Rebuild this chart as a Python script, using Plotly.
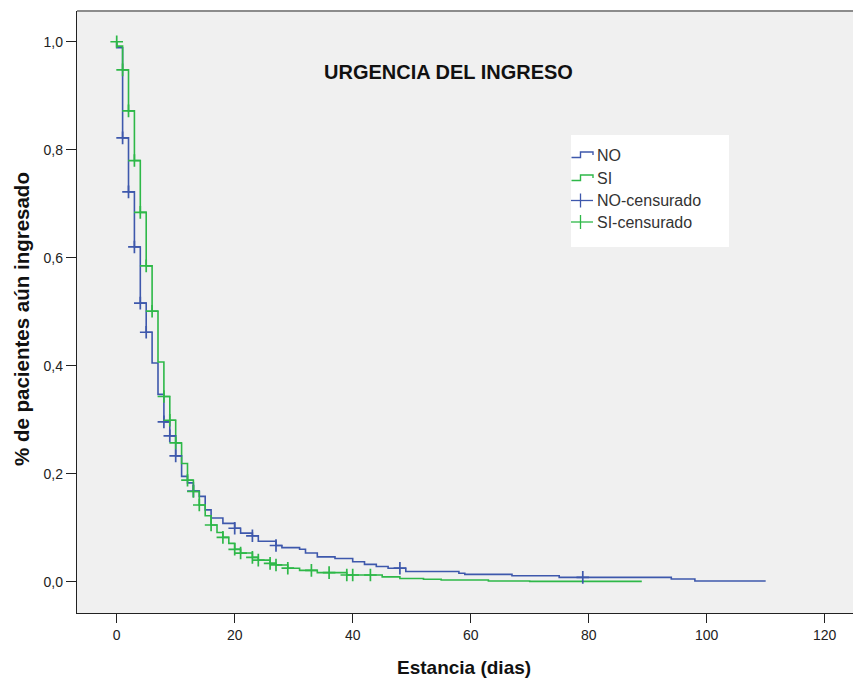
import plotly.graph_objects as go

# ---------------- data ----------------
# Kaplan-Meier steps: time at which each level starts, and the level
no_times = [0, 0, 1, 2, 3, 4, 5, 6, 7, 8, 9, 10, 11, 12, 13, 14, 15, 16, 18, 20, 21,
            23, 24, 27, 28, 31, 32, 34, 37, 40, 42, 44, 46, 49, 58, 59, 67, 75, 94, 98]
no_surv = [1.0, 0.989, 0.822, 0.722, 0.620, 0.516, 0.462, 0.405, 0.347, 0.296, 0.270,
           0.233, 0.195, 0.183, 0.168, 0.158, 0.133, 0.118, 0.108, 0.099, 0.090,
           0.085, 0.075, 0.067, 0.063, 0.060, 0.053, 0.046, 0.043, 0.037, 0.032,
           0.028, 0.025, 0.019, 0.0155, 0.0136, 0.011, 0.008, 0.005, 0.0013]
no_end = 110

si_times = [0, 0, 1, 2, 3, 4, 5, 6, 7, 8, 9, 10, 11, 12, 13, 14, 15, 16, 17, 18, 19,
            20, 21, 23, 24, 26, 27, 29, 31, 34, 39, 45, 48, 52, 55, 63, 70]
si_surv = [1.0, 0.992, 0.948, 0.872, 0.780, 0.684, 0.585, 0.501, 0.407, 0.343, 0.299,
           0.257, 0.219, 0.188, 0.167, 0.142, 0.122, 0.105, 0.091, 0.082, 0.071,
           0.060, 0.053, 0.045, 0.040, 0.034, 0.031, 0.025, 0.021, 0.0167, 0.0124,
           0.009, 0.006, 0.0044, 0.003, 0.0012, 0.0005]
si_end = 89

# censored observations
no_cens_t = [1, 2, 3, 4, 5, 8, 9, 10, 13, 20, 23, 27, 48, 79]
no_cens_s = [0.822, 0.722, 0.620, 0.516, 0.462, 0.296, 0.270, 0.233, 0.168, 0.099,
             0.085, 0.067, 0.025, 0.008]
si_cens_t = [0, 1, 2, 3, 4, 5, 6, 8, 9, 10, 12, 13, 14, 16, 18, 20, 21, 23, 24, 26,
             27, 29, 33, 36, 39, 40, 43]
si_cens_s = [1.0, 0.948, 0.872, 0.780, 0.684, 0.585, 0.501, 0.343, 0.299, 0.257, 0.188,
             0.167, 0.142, 0.105, 0.082, 0.060, 0.053, 0.045, 0.040, 0.034, 0.031,
             0.025, 0.021, 0.0167, 0.0124, 0.0124, 0.0124]

x_ticks = [0, 20, 40, 60, 80, 100, 120]
y_ticks = [0.0, 0.2, 0.4, 0.6, 0.8, 1.0]

title_text = "URGENCIA DEL INGRESO"
x_title = "Estancia (dias)"
y_title = "% de pacientes aún ingresado"
legend_labels = ["NO", "SI", "NO-censurado", "SI-censurado"]

BLUE = "#3E58AC"
GREEN = "#2EB848"

# ---------------- figure ----------------
W, H = 853, 682
ML, MR, MT, MB = 77, 0, 11, 69
PW, PH = W - ML - MR, H - MT - MB
FONT = "Liberation Sans, Arial, sans-serif"


def px(xp):
    return (xp - ML) / PW


def py(yp):
    return (H - MB - yp) / PH


fig = go.Figure()

fig.add_trace(go.Scatter(x=no_times + [no_end], y=no_surv + [no_surv[-1]],
                         mode="lines", line=dict(color=BLUE, width=1.6, shape="hv"),
                         showlegend=False, hoverinfo="skip"))
fig.add_trace(go.Scatter(x=si_times + [si_end], y=si_surv + [si_surv[-1]],
                         mode="lines", line=dict(color=GREEN, width=1.6, shape="hv"),
                         showlegend=False, hoverinfo="skip"))
fig.add_trace(go.Scatter(x=no_cens_t, y=no_cens_s, mode="markers",
                         marker=dict(symbol="cross-thin", size=9,
                                     line=dict(color=BLUE, width=1.7)),
                         showlegend=False, hoverinfo="skip"))
fig.add_trace(go.Scatter(x=si_cens_t, y=si_cens_s, mode="markers",
                         marker=dict(symbol="cross-thin", size=9,
                                     line=dict(color=GREEN, width=1.7)),
                         showlegend=False, hoverinfo="skip"))

axis_font = dict(family=FONT, size=14, color="#222222")

fig.update_xaxes(range=[-6.73, 124.8], tickvals=x_ticks, ticks="outside", ticklen=9,
                 tickwidth=1.3, tickcolor="#222222", showline=True, linecolor="#222222",
                 linewidth=1.3, showgrid=False, zeroline=False, tickfont=axis_font)
fig.update_yaxes(range=[-0.058, 1.057], tickvals=y_ticks, tickformat=".1f",
                 ticks="outside", ticklen=10, tickwidth=1.3, tickcolor="#222222",
                 showline=True, linecolor="#222222", linewidth=1.3, showgrid=False,
                 zeroline=False, tickfont=axis_font)

shapes = []
# top border of plot frame
shapes.append(dict(type="line", xref="paper", yref="paper", x0=0, x1=1, y0=1, y1=1,
                   line=dict(color="#8c8c8c", width=2)))
# legend box
shapes.append(dict(type="rect", xref="paper", yref="paper", x0=px(571), x1=px(729),
                   y0=py(247), y1=py(135), fillcolor="white", line=dict(width=0)))
rows = [155, 178, 200.5, 222]


def step_icon(yc, color):
    pts = [(571.5, yc + 2.5), (580.5, yc + 2.5), (580.5, yc - 3), (593, yc - 3), (593, yc)]
    path = "M " + " L ".join(f"{px(a):.5f},{py(b):.5f}" for a, b in pts)
    return dict(type="path", xref="paper", yref="paper", path=path,
                line=dict(color=color, width=1.4))


def cross_icon(yc, color):
    return [dict(type="line", xref="paper", yref="paper", x0=px(571), x1=px(593),
                 y0=py(yc), y1=py(yc), line=dict(color=color, width=1.3)),
            dict(type="line", xref="paper", yref="paper", x0=px(580.5), x1=px(580.5),
                 y0=py(yc - 7), y1=py(yc + 7), line=dict(color=color, width=1.3))]


shapes.append(step_icon(rows[0], BLUE))
shapes.append(step_icon(rows[1], GREEN))
shapes += cross_icon(rows[2], BLUE)
shapes += cross_icon(rows[3], GREEN)

annotations = []
for lab, yc in zip(legend_labels, rows):
    annotations.append(dict(text=lab, xref="paper", yref="paper", x=px(595), y=py(yc),
                            xanchor="left", yanchor="middle", showarrow=False,
                            font=dict(family=FONT, size=16, color="#333333")))
annotations.append(dict(text="<b>" + title_text + "</b>", xref="paper", yref="paper",
                        x=px(448), y=py(72), xanchor="center", yanchor="middle",
                        showarrow=False,
                        font=dict(family=FONT, size=20, color="#111111")))
annotations.append(dict(text="<b>" + x_title + "</b>", xref="paper", yref="paper",
                        x=px(464), y=py(667), xanchor="center", yanchor="middle",
                        showarrow=False,
                        font=dict(family=FONT, size=19, color="#111111")))
annotations.append(dict(text="<b>" + y_title + "</b>", xref="paper", yref="paper",
                        x=px(21), y=py(319), xanchor="center", yanchor="middle",
                        textangle=-90, showarrow=False,
                        font=dict(family=FONT, size=20.5, color="#111111")))

fig.update_layout(width=W, height=H, margin=dict(l=ML, r=MR, t=MT, b=MB),
                  paper_bgcolor="white", plot_bgcolor="#F0F0F0", separators=",.",
                  shapes=shapes, annotations=annotations, showlegend=False)

fig.write_html("out.html")
